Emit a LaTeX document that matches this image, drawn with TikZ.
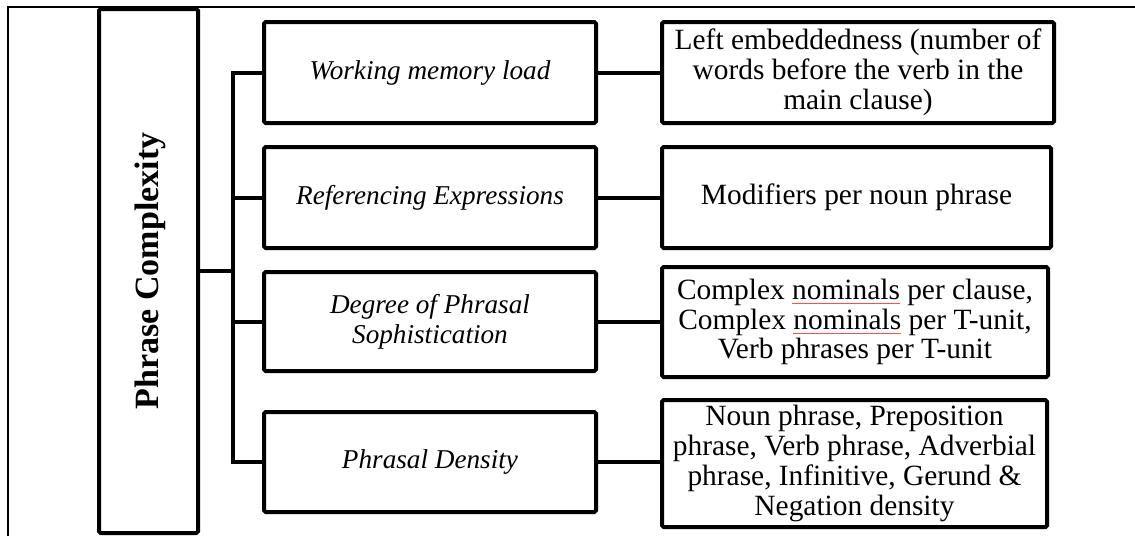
\documentclass[tikz,border=0pt]{standalone}
\usepackage{fontspec}
\setmainfont{Liberation Serif}
\usepackage{xcolor}
% thin spell-check style underline
\newcommand\spellmark[1]{\setbox0\hbox{#1}\rlap{\textcolor{red!70}{\rule[-2.4pt]{\wd0}{0.4pt}}}#1}
\begin{document}
\begin{tikzpicture}[x=0.5pt,y=-0.5pt,
  box/.style={draw,line width=2pt,rounded corners=0.8pt,inner sep=0pt,align=center},
  midbox/.style={box,minimum width=166pt,font=\fontsize{13.6}{15}\selectfont\itshape},
  rightbox/.style={box,font=\fontsize{14.7}{14.9}\selectfont},
  link/.style={line width=2pt,line join=miter},
  frame/.style={line width=0.9pt}]
\useasboundingbox (0,0) rectangle (1135,536);

% surrounding cell border
\draw[frame] (8,536) -- (8,7) -- (1135,7);

% root
\node[box,minimum width=49.5pt,minimum height=262pt] (root) at (148.5,271) {};
\node[rotate=90,font=\fontsize{17}{19}\selectfont\bfseries] (title) at (150,271) {Phrase Complexity};

% second level
\node[midbox,minimum height=50.5pt] (m1) at (430,72.5) {Working memory load};
\node[midbox,minimum height=50.5pt] (m2) at (430,197.5) {Referencing Expressions};
\node[midbox,minimum height=49.5pt] (m3) at (430,321.5) {Degree of Phrasal\\Sophistication};
\node[midbox,minimum height=50pt] (m4) at (430,462) {Phrasal Density};

% measures
\node[rightbox,minimum width=196pt,minimum height=50.5pt] (r1) at (858,72.5)
  {Left embeddedness (number of\\words before the verb in the\\main clause)};
\node[rightbox,minimum width=194.5pt,minimum height=50.5pt] (r2) at (856.5,197.5)
  {Modifiers per noun phrase};
\node[rightbox,minimum width=193pt,minimum height=55pt] (r3) at (855,322)
  {Complex \spellmark{nominals} per clause,\\Complex \spellmark{nominals} per T-unit,\\Verb phrases per T-unit};
\node[rightbox,minimum width=192.5pt,minimum height=63.5pt] (r4) at (854.5,463.5)
  {Noun phrase, Preposition\\phrase, Verb phrase, Adverbial\\phrase, Infinitive, Gerund \&\\Negation density};

% tree connectors
\coordinate (hub) at (233,271);
\draw[link] (root.east) -- (hub);
\draw[link] (m1.west) -| (hub);
\draw[link] (m4.west) -| (hub);
\draw[link] (m2.west) -- (m2.west -| hub);
\draw[link] (m3.west) -- (m3.west -| hub);

\draw[link] (m1.east) -- (m1.east -| r1.west);
\draw[link] (m2.east) -- (m2.east -| r2.west);
\draw[link] (m3.east) -- (m3.east -| r3.west);
\draw[link] (m4.east) -- (m4.east -| r4.west);
\end{tikzpicture}
\end{document}
